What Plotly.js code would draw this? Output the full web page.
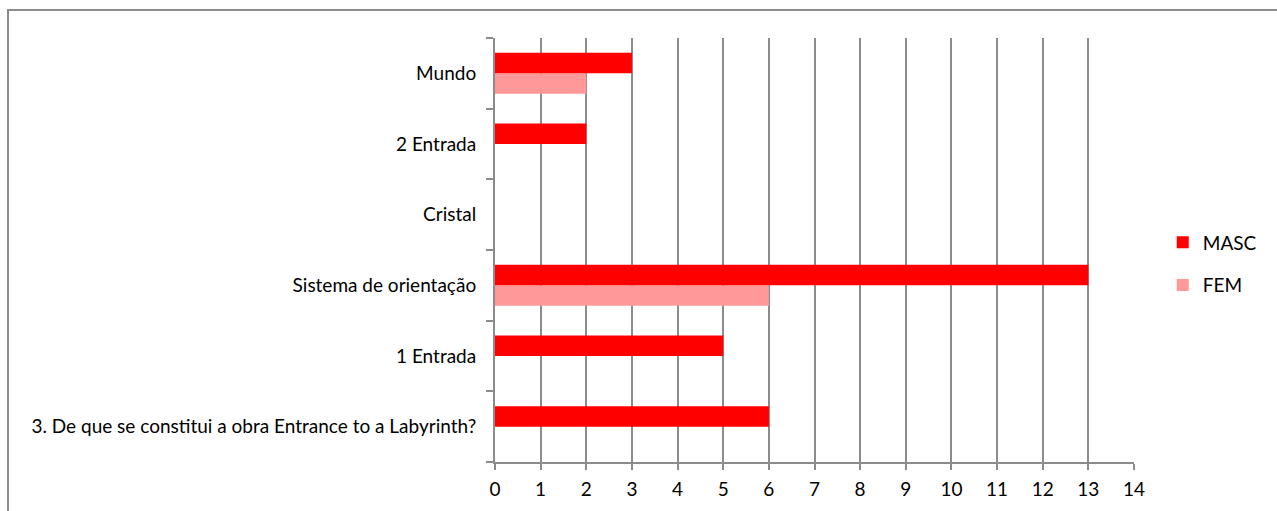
<!DOCTYPE html>
<html>
<head>
<meta charset="utf-8">
<script src="https://cdn.plot.ly/plotly-3.0.1.min.js"></script>
<style>
body{margin:0;padding:0;background:#fff;overflow:hidden;}
#frame{position:absolute;left:7px;top:9px;width:1290px;height:520px;border:2px solid #8c8c8c;box-sizing:border-box;}
#chart{position:absolute;left:0;top:0;width:1277px;height:511px;}
</style>
</head>
<body>
<div id="frame"></div>
<div id="chart"></div>
<script>
const categories = ["3. De que se constitui a obra Entrance to a Labyrinth?", "1 Entrada", "Sistema de orientação", "Cristal", "2 Entrada", "Mundo"];
const masc = [6, 5, 13, 0, 2, 3];
const fem = [0, 0, 6, 0, 0, 2];
const xTicks = [0,1,2,3,4,5,6,7,8,9,10,11,12,13,14];

const font = "Lato, Noto Sans, sans-serif";
const traces = [
  {type:'bar', orientation:'h', name:'FEM', y:categories, x:fem, marker:{color:'#ff9999'}, legendgroup:'f', legendrank:2},
  {type:'bar', orientation:'h', name:'MASC', y:categories, x:masc, marker:{color:'#ff0000'}, legendgroup:'m', legendrank:1}
];
const layout = {
  width:1277, height:511,
  margin:{l:495, r:143, t:38, b:49},
  paper_bgcolor:'rgba(0,0,0,0)', plot_bgcolor:'rgba(0,0,0,0)',
  barmode:'group', bargap:0.42, bargroupgap:0,
  font:{family:font, size:19, color:'#000'},
  xaxis:{range:[0,14], tickvals:xTicks, ticktext:xTicks.map(String), showgrid:true, gridcolor:'#8c8c8c', gridwidth:2,
         showline:true, linecolor:'#8c8c8c', linewidth:2, ticks:'outside', ticklen:6, tickcolor:'#8c8c8c', tickwidth:2,
         ticklabelstandoff:3, zeroline:false, fixedrange:true, tickfont:{size:19}},
  yaxis:{type:'category', categoryorder:'array', categoryarray:categories, showgrid:false, showline:true, linecolor:'#8c8c8c', linewidth:2,
         ticks:'outside', tickson:'boundaries', ticklen:7, tickcolor:'#8c8c8c', tickwidth:2, ticklabelstandoff:13,
         fixedrange:true, tickfont:{size:19}},
  showlegend:true,
  legend:{x:1.045, xanchor:'left', y:0.467, yanchor:'middle', traceorder:'grouped', tracegroupgap:15,
          font:{size:19}, itemwidth:30, bgcolor:'rgba(0,0,0,0)'}
};
Plotly.newPlot('chart', traces, layout, {displayModeBar:false, staticPlot:true});
</script>
</body>
</html>
